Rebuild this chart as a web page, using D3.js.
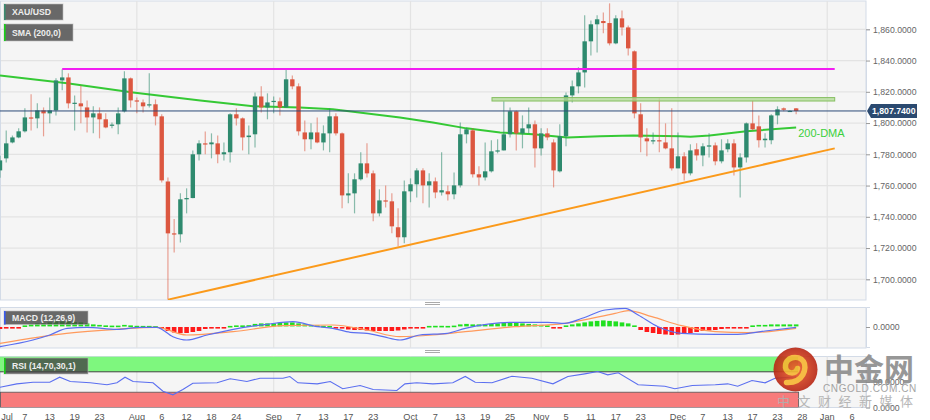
<!DOCTYPE html>
<html><head><meta charset="utf-8">
<script src="https://cdn.jsdelivr.net/npm/d3@7"></script>
<style>body{margin:0;background:#fff;} svg{display:block;font-family:"Liberation Sans",Arial,sans-serif;}</style>
</head><body><svg id="c" width="930" height="420"></svg>
<script>
// ---------- DATA ----------
const opens =[1769.7,1777.4,1787.6,1790.8,1794.7,1803.6,1803,1808.1,1806.2,1808.1,1827.3,1829.2,1812.6,1812.6,1810,1803.6,1806.2,1802.4,1798.3,1799.2,1807.5,1828.6,1814.5,1813.2,1811.5,1812,1804.3,1762.6,1729.4,1728.8,1751.2,1752,1780,1787,1786.4,1787,1780,1781.3,1805.6,1803,1791,1792.8,1817,1810,1813.5,1813.9,1810,1828,1823.5,1794,1789.6,1794,1787.6,1793.4,1804.3,1793.4,1753.7,1755,1764,1774.2,1767.8,1742.2,1750.5,1749.9,1733.3,1726.9,1756.3,1760.8,1769.7,1760.1,1762.7,1755.6,1756.3,1754.4,1760.1,1792.8,1795.3,1767.2,1765.2,1769.1,1781.9,1782.5,1792.8,1807.5,1793.4,1796.6,1799.2,1783.8,1793.4,1787.6,1769.1,1791.5,1817.7,1823.5,1832.4,1852.3,1863.2,1865.3,1864,1851,1867,1861.2,1845.9,1805.6,1790.2,1788.3,1789,1787.6,1783.8,1771,1778.7,1767.8,1783.2,1779.3,1785.1,1785.7,1775.5,1783.2,1787,1771.6,1778,1799.8,1797.9,1789,1789,1804.9,1809.4,1807.6,1809.4];
const highs =[1779,1795.3,1792,1796.6,1809.4,1818.4,1812.6,1810,1816.4,1828.6,1834.4,1831.8,1817.7,1824.1,1814.5,1810.7,1810,1806.2,1800.4,1810,1833.1,1829.2,1816.4,1815.1,1831.8,1815.1,1805.6,1765.2,1738.6,1755,1758.2,1782.5,1789,1794.6,1793.4,1792,1787.6,1806.2,1809.4,1803.6,1798.5,1819.6,1823.5,1819,1817,1816.4,1834.4,1830.5,1825.4,1801.7,1799.8,1803.6,1798.5,1809.4,1806.2,1794,1767.8,1767.8,1781.3,1787,1769.7,1757.6,1760.1,1755,1745.4,1763.3,1764.6,1771,1771,1767.8,1765.2,1781.3,1760.1,1768.4,1800.4,1797.2,1796.6,1772.3,1787.6,1789,1789.6,1813.9,1810,1808.1,1804.9,1810,1801.7,1796.6,1796.6,1789.6,1799.2,1819.6,1827.3,1835.7,1869,1865.7,1869,1870.8,1876.6,1869,1872.1,1862.5,1846.5,1812.6,1796.6,1794,1815.8,1799.8,1809.4,1794,1781.3,1786.4,1787,1787,1793.4,1787.6,1789.6,1789.6,1789.6,1780.6,1800.4,1814.5,1804.9,1793.4,1805.6,1810.7,1810,1808.2,1809.6];
const lows  =[1765,1774.8,1787,1790.2,1794,1795.3,1796.6,1791.5,1799.8,1804.9,1821,1809.4,1795.3,1799.8,1794,1793.4,1790.2,1796.6,1796.6,1792.8,1806.8,1810,1806.2,1806.8,1810,1798.5,1762,1687,1717.2,1723.6,1742.2,1751.8,1776,1780,1777.4,1774.2,1776.1,1774.8,1798.5,1782.5,1780,1784.4,1806.8,1802.4,1806.2,1804.9,1810,1821.6,1792,1781.9,1783.2,1787,1782.5,1781.3,1792,1745.4,1748.6,1742.2,1763.3,1765.2,1737.1,1740.3,1746,1729.4,1721.1,1723,1749.3,1752.4,1748.6,1746,1751.8,1753.7,1750.5,1751.2,1758.8,1787,1765.2,1760.1,1763.3,1768.4,1780.6,1782.5,1790.8,1782.5,1783.8,1793.4,1771.6,1779.3,1789,1758.8,1768.4,1785.1,1813.2,1819,1822.8,1843.3,1845.2,1857.4,1849.7,1850.4,1856.1,1843.3,1803,1781.3,1778.7,1786.4,1781.3,1783.2,1769.7,1771,1763.3,1766.5,1776.1,1772.3,1778,1773,1774.2,1781.3,1766.5,1752.4,1774.8,1795.3,1784.4,1784.4,1786.4,1799.2,1807.5,1807.2,1805.6];
const closes=[1776.1,1787,1790.8,1794.7,1803.6,1803,1808.1,1806.2,1808.1,1827.3,1829.2,1812.6,1813,1810.7,1803.6,1806.2,1802.4,1797.2,1799,1806.2,1828.6,1814.5,1813.9,1810.7,1812,1804.3,1763.3,1729.4,1728.8,1751.2,1752,1780,1787,1786.4,1787.6,1780,1781.3,1805.6,1803,1790.8,1792,1817,1810,1813.2,1814.2,1810,1828,1823.5,1794.7,1789.6,1794,1787.6,1793.4,1804.3,1793.4,1753.7,1755,1764,1774.2,1767.8,1742.2,1750.5,1749.9,1733.9,1726.9,1756.3,1760.8,1769.7,1760.1,1762.7,1755.6,1757,1754.4,1760.1,1792.8,1796,1767.2,1765.2,1769.1,1781.9,1782.5,1792.8,1807.5,1793.4,1796.6,1799.2,1783.8,1793.4,1790.8,1769.7,1791.5,1817.7,1823.5,1832.4,1852.3,1863.2,1866.4,1864,1851,1867,1861.2,1847.8,1806.2,1790.8,1788.3,1789,1788.6,1783.8,1771,1778.7,1767.8,1782.5,1779.3,1785.1,1785.7,1775.5,1782.5,1787,1771.6,1778,1799.8,1796,1789,1790,1804.9,1808.8,1808.5,1807.8,1807.74];

const smaPts=[[0,1830.5],[10.8,1825.4],[21.4,1819.6],[32.2,1814.5],[40.7,1810.7],[48.2,1810],[53.5,1808.8],[64.3,1803.6],[69.6,1800.4],[75,1796.6],[80.4,1794],[85.7,1792.8],[91.2,1790.8],[96.5,1791.5],[101.8,1792.1],[109.3,1791.5],[111,1791.3],[114.1,1792.1],[120,1794.7],[128,1797.2]];
const resistanceLine=[[10,1834.6],[134.2,1834.6]];
const zoneBand=[79.1,134.2,1814.1,1816.3];
const trendLine=[[27,1687],[134.2,1783.8]];
const lastPrice=1807.74;
const priceTicks=[1700,1720,1740,1760,1780,1800,1820,1840,1860];

const macdPts=[[0,-19.7],[5.3,-13],[8,-8],[10.8,-1.3],[14,-0.3],[18.8,-2.3],[22.5,-0.3],[25.2,-0.3],[27.8,-9.7],[30,-13],[33.3,-8],[37.5,-2.3],[42.9,2.7],[47.1,5.3],[51,0.3],[53.5,-1.3],[56.3,-5.3],[59,-6.3],[61.6,-9.7],[64.3,-13],[67.5,-8],[71.9,-6.3],[74.8,-1.3],[82.8,4.7],[88.1,4.7],[90.8,3.7],[93.6,8.7],[97.3,17],[100.5,18.7],[102.6,12],[105.8,0.3],[109.6,-6.3],[115,-7.3],[118.6,-7.3],[123,-4],[128,-0.3]];
const signalPts=[[0,-16.3],[10.7,-6.3],[18.8,-2.3],[25.2,-0.3],[30,-8],[37.5,-4.7],[45.5,1.3],[53.5,2],[59,-3],[64.3,-9.7],[69.6,-8],[74.8,-4.7],[82.8,0.3],[90.8,3.7],[98.9,13.7],[101,16.3],[104.8,10.3],[109.6,1.3],[115,-4.7],[120.3,-5.7],[128,-1.3]];
const histVals=[-2,-1.5,-1,-0.5,1,2,3,3,4,5,5,5,4.5,4,3,2,1.5,1,0.8,0.8,1.5,1,0.6,0.5,0.5,0.3,-1.5,-4,-5.5,-6,-6,-5,-4,-2,-1,-0.7,-0.5,0.5,1,1,1.2,2.5,3,3,3,3.5,4,4,3,2,1.5,1,0.6,0.4,-0.5,-1.5,-2.5,-3,-3,-3.5,-4,-4,-4,-4,-3.5,-2.5,-1.5,-1,-0.5,0.5,0.6,0.6,0.5,0.8,2,2.5,2,2,2,2.5,3,3.5,4,3.5,3,2.5,2,1.5,1,-0.5,-0.5,1,2,3,4,5,5.5,6,5.5,5,4,3,1,-3,-5,-6,-7,-7.5,-8,-7.5,-7,-6,-5,-4,-3.5,-3,-2,-1.5,-1,-0.8,-0.5,1,1.5,1.5,2,2,2,2,2];
const rsiPts=[[0,39.8],[2.7,46.4],[5.3,49.6],[8,49.6],[9.6,59.4],[11.3,51],[14.5,48.4],[17.2,44.5],[18.8,48.4],[20.1,59.4],[21.4,51],[24.6,48.4],[26.2,32],[27.8,24.9],[29.4,35.3],[31,47.6],[34.9,48.4],[37,56.3],[39.7,51],[41.8,57.5],[45.5,57.5],[46.6,60.8],[47.9,48.4],[51,46.4],[53.1,51],[55.1,36.7],[57.9,43.1],[60,35.3],[63.8,33.3],[65.1,46.4],[67,48.4],[69.6,46.4],[72.8,48.4],[74.8,60.8],[76.4,49.6],[79.1,48.4],[82.3,61.4],[85.5,57.5],[88.9,46.4],[91.3,60.8],[94,66],[96.1,70.6],[97.7,64],[99.4,68],[102.6,44.5],[106.9,41.8],[108.5,36.7],[111.3,43.1],[115,44.5],[117,46.4],[118.6,41.8],[120.9,52.9],[123,48.4],[124.6,57.5],[128,60]];

const xLabels=["Jul","7","13","19","23","Aug","6","12","18","24","Sep","7","13","17","23","Oct","7","13","19","25","Nov","5","11","17","23","Dec","7","13","17","23","28","Jan","6"];
const xLabelIdx=[0,4,8,12,16,22,26,30,34,38,44,48,52,56,60,66,70,74,78,82,87,91,95,99,103,109,113,117,121,125,129,133,137];
const monthIdx=[22,44,66,87,109,133];

// ---------- LAYOUT ----------
const svg=d3.select("#c");
const plotR=866;
const FS=8.7;
const P={main:[1,300],macd:[307.5,348],rsi:[356.5,407.5]};
const x=d3.scaleLinear().domain([0,139.23]).range([0,plotR]);
const y=d3.scaleLinear().domain([1700,1860]).range([279.3,29.3]);
const yM=d3.scaleLinear().domain([-20,20]).range([347,307]);
const yR=d3.scaleLinear().domain([0,100]).range([407.5,356.5]);
const GREEN="#2e8a6e",RED="#dc5740";

svg.append("rect").attr("width",930).attr("height",420).attr("fill","#fff");
const defs=svg.append("defs");
Object.entries(P).forEach(([k,[t,b]])=>{
  defs.append("clipPath").attr("id","clip-"+k).append("rect").attr("x",0).attr("y",t).attr("width",plotR).attr("height",b-t);
  svg.append("rect").attr("x",0.5).attr("y",t).attr("width",plotR-0.5).attr("height",b-t).attr("fill","#f5f5f5").attr("stroke","#d3dbe7").attr("stroke-width",1);
  svg.append("g").selectAll("line").data(monthIdx).join("line")
    .attr("x1",d=>x(d)).attr("x2",d=>x(d)).attr("y1",t).attr("y2",b).attr("stroke","#e3e3e3").attr("stroke-width",1.2);
});
svg.append("g").selectAll("line").data(priceTicks).join("line")
  .attr("x1",1).attr("x2",plotR).attr("y1",d=>y(d)).attr("y2",d=>y(d)).attr("stroke","#e3e3e3").attr("stroke-width",1.2);

function styleAxis(g){
  g.select(".domain").attr("stroke","#d3dbe7");
  g.selectAll(".tick line").attr("stroke","#999");
  g.selectAll("text").attr("fill","#666").attr("font-size",FS).attr("font-family","Liberation Sans, Arial, sans-serif");
}
styleAxis(svg.append("g").attr("transform",`translate(${plotR},0)`)
  .call(d3.axisRight(y).tickValues(priceTicks).tickFormat(d3.format(",.4f")).tickSize(4).tickPadding(3)));

// ---------- MAIN PANEL ----------
const gMain=svg.append("g").attr("clip-path","url(#clip-main)");
gMain.append("path").datum(smaPts).attr("fill","none").attr("stroke","#35c935").attr("stroke-width",2)
  .attr("d",d3.line().x(d=>x(d[0])).y(d=>y(d[1])));
const idx=d3.range(opens.length);
const bw=4.4;
const cg=gMain.append("g").selectAll("g").data(idx).join("g");
cg.append("line").attr("x1",i=>x(i)).attr("x2",i=>x(i)).attr("y1",i=>y(highs[i])).attr("y2",i=>y(lows[i]))
  .attr("stroke",i=>closes[i]>=opens[i]?GREEN:RED).attr("stroke-opacity",0.55).attr("stroke-width",1.2);
cg.append("rect").attr("x",i=>x(i)-bw/2).attr("width",bw)
  .attr("y",i=>y(Math.max(opens[i],closes[i])))
  .attr("height",i=>Math.max(1.2,Math.abs(y(opens[i])-y(closes[i]))))
  .attr("fill",i=>closes[i]>=opens[i]?GREEN:RED);
gMain.append("path").datum(resistanceLine).attr("fill","none").attr("stroke","#f21df2").attr("stroke-width",2)
  .attr("d",d3.line().x(d=>x(d[0])).y(d=>y(d[1])));
gMain.append("rect").attr("x",x(zoneBand[0])).attr("width",x(zoneBand[1])-x(zoneBand[0]))
  .attr("y",y(zoneBand[3])).attr("height",y(zoneBand[2])-y(zoneBand[3]))
  .attr("fill","#b5dc9a").attr("fill-opacity",0.8).attr("stroke","#86bf62").attr("stroke-width",1);
gMain.append("path").datum(trendLine).attr("fill","none").attr("stroke","#fb9a1b").attr("stroke-width",2)
  .attr("d",d3.line().x(d=>x(d[0])).y(d=>y(d[1])));
gMain.append("line").attr("x1",0).attr("x2",plotR).attr("y1",y(lastPrice)).attr("y2",y(lastPrice)).attr("stroke","#2d4c7a").attr("stroke-width",1);
svg.append("text").attr("x",x(128)+2).attr("y",y(smaPts[smaPts.length-1][1])+10).text("200-DMA")
  .attr("fill","#3bd03b").attr("font-size",11);
const ly=y(lastPrice);
svg.append("path").attr("d",`M${plotR+1},${ly} L${plotR+5},${ly-7} H917 V${ly+7} H${plotR+5} Z`).attr("fill","#2b4a70");
svg.append("text").attr("x",plotR+6).attr("y",ly+3.2).text(d3.format(",.4f")(lastPrice))
  .attr("fill","#fff").attr("font-size",FS).attr("font-weight","bold");

// ---------- MACD ----------
const gM=svg.append("g").attr("clip-path","url(#clip-macd)");
gM.append("g").selectAll("rect").data(idx).join("rect")
  .attr("x",i=>x(i)-2.3).attr("width",4.6)
  .attr("y",i=>histVals[i]>=0?yM(histVals[i])-0.6:yM(0))
  .attr("height",i=>Math.max(1.6,Math.abs(yM(histVals[i])-yM(0))))
  .attr("fill",i=>histVals[i]>=0?"#1fe01f":"#ff1a1a");
gM.append("path").datum(signalPts).attr("fill","none").attr("stroke","#ff9a5c").attr("stroke-width",1.2)
  .attr("d",d3.line().curve(d3.curveMonotoneX).x(d=>x(d[0])).y(d=>yM(d[1])));
gM.append("path").datum(macdPts).attr("fill","none").attr("stroke","#5b6ff0").attr("stroke-width",1.2)
  .attr("d",d3.line().curve(d3.curveMonotoneX).x(d=>x(d[0])).y(d=>yM(d[1])));
styleAxis(svg.append("g").attr("transform",`translate(${plotR},0)`)
  .call(d3.axisRight(yM).tickValues([0]).tickFormat(d3.format(".4f")).tickSize(4).tickPadding(3)));

// ---------- RSI ----------
const gR=svg.append("g").attr("clip-path","url(#clip-rsi)");
const bandR=x(128)+2;
gR.append("rect").attr("x",0).attr("width",bandR).attr("y",yR(100)).attr("height",yR(70)-yR(100)).attr("fill","#7ef77e");
gR.append("rect").attr("x",0.5).attr("width",bandR).attr("y",yR(30)).attr("height",yR(0)-yR(30)).attr("fill","#f77b7b").attr("stroke","#555").attr("stroke-width",0.8);
gR.append("line").attr("x1",0).attr("x2",bandR).attr("y1",yR(70)).attr("y2",yR(70)).attr("stroke","#444").attr("stroke-width",1);
gR.append("path").datum(rsiPts).attr("fill","none").attr("stroke","#5b6ff0").attr("stroke-width",1.1)
  .attr("d",d3.line().x(d=>x(d[0])).y(d=>yR(d[1])));
styleAxis(svg.append("g").attr("transform",`translate(${plotR},0)`)
  .call(d3.axisRight(yR).tickValues([0,50]).tickFormat(d3.format(".4f")).tickSize(4).tickPadding(3)));

[303.5,351.5].forEach(sy=>{
  [-1,1].forEach(o=>svg.append("line").attr("x1",425).attr("x2",440).attr("y1",sy+o).attr("y2",sy+o).attr("stroke","#aaa").attr("stroke-width",1));
});

svg.append("g").selectAll("text").data(xLabels).join("text")
  .attr("x",(d,i)=>i===0?Math.max(x(xLabelIdx[i]),7):x(xLabelIdx[i])).attr("y",419.5)
  .attr("text-anchor","middle").attr("fill","#555").attr("font-size",9.2).text(d=>d);

function box(x0,y0,w,h,label,col){
  const g=svg.append("g");
  g.append("rect").attr("x",x0).attr("y",y0).attr("width",w).attr("height",h).attr("fill","#454545").attr("fill-opacity",0.8).attr("stroke","#bbb").attr("stroke-opacity",0.6);
  g.append("rect").attr("x",x0).attr("y",y0).attr("width",1.6).attr("height",h).attr("fill",col);
  g.append("text").attr("x",x0+8).attr("y",y0+h/2+3.2).text(label).attr("fill","#eee").attr("font-size",FS).attr("font-weight","bold");
}
box(4,4,59,16,"XAU/USD","#3a8a70");
box(4,24,69,17,"SMA (200,0)","#18d018");
box(4,311,84,13.5,"MACD (12,26,9)","#3a5cf0");
box(4,358,84,16,"RSI (14,70,30,1)","#18d018");

const wm=svg.append("g").attr("opacity",0.9);
const grad=defs.append("radialGradient").attr("id","lg");
grad.append("stop").attr("offset","0%").attr("stop-color","#f0602a");
grad.append("stop").attr("offset","100%").attr("stop-color","#b82614");
const cx=795.5,cy=369.5;
wm.append("circle").attr("cx",cx).attr("cy",cy).attr("r",22).attr("fill","url(#lg)");
wm.append("path").attr("d",`M${cx-9},${cy+13} C${cx+8},${cy+14} ${cx+12},${cy-2} ${cx+8},${cy-8} C${cx+3},${cy-15} ${cx-11},${cy-13} ${cx-10},${cy-2} C${cx-9},${cy+5} ${cx+1},${cy+5} ${cx+2},${cy-1}`)
  .attr("fill","none").attr("stroke","#f7b531").attr("stroke-width",5.5).attr("stroke-linecap","round");
wm.append("text").attr("x",869).attr("y",380).attr("text-anchor","middle").attr("font-size",30).attr("font-weight","bold")
  .attr("font-family","Noto Sans CJK SC").attr("fill","#8c8c8c").text("中金网");
wm.append("text").attr("x",870).attr("y",392).attr("text-anchor","middle").attr("font-size",10)
  .attr("letter-spacing",0.6).attr("fill","#9a9a9a").text("CNGOLD.COM.CN");
wm.append("text").attr("x",777).attr("y",406).attr("font-size",13).attr("letter-spacing",7.5)
  .attr("font-family","Noto Sans CJK SC").attr("fill","#b0b0b0").text("中文财经新媒体");
</script></body></html>
